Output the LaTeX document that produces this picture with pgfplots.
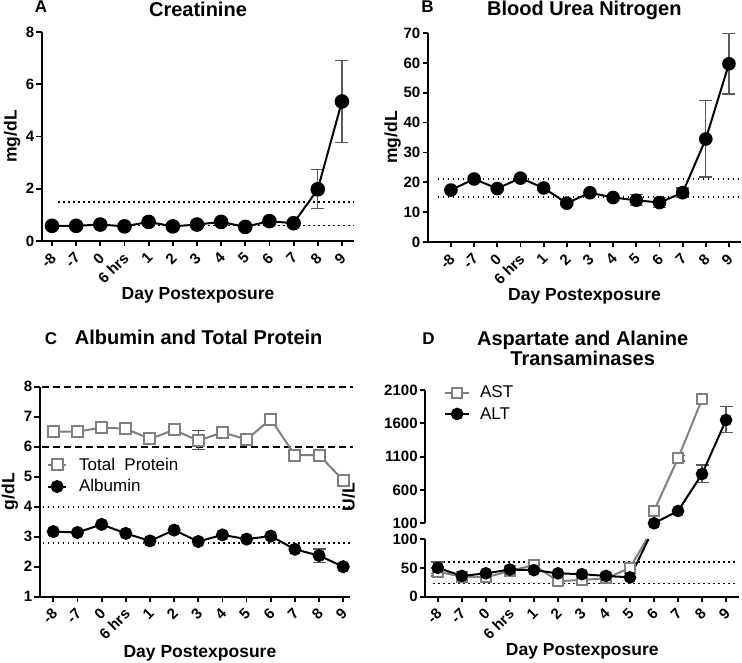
\documentclass[border=0pt]{standalone}
\usepackage{pgfplots}
\pgfplotsset{compat=1.18}
\usepackage{fontspec}
\setmainfont{Liberation Sans}
\definecolor{gp}{HTML}{808080}
\definecolor{eb}{HTML}{5A5A5A}
\pgfplotsset{
  gpaxis/.style={
    scale only axis,
    clip=false,
    anchor=south west,
    axis x line=bottom, axis y line=left,
    axis line style={-, line width=1.8pt, black},
    tick align=outside,
    major tick length=5.5pt,
    tick style={line width=1.8pt, black},
    /pgf/number format/assume math mode=true,
    /pgf/number format/1000 sep={},
    scaled y ticks=false,
    tick label style={font=\bfseries\fontsize{15}{15}\selectfont, black},
    xtick={0,...,12},
    xticklabels={-8,-7,0,6 hrs,1,2,3,4,5,6,7,8,9},
    xticklabel style={xshift=-2.5pt, yshift=-3.5pt, rotate=45, anchor=north east, inner sep=1pt},
    yticklabel style={inner sep=2pt},
    label style={font=\bfseries\fontsize{17.5}{17.5}\selectfont},
    xlabel={Day Postexposure},
  },
  refdot/.style={forget plot, black, line width=1.6pt, dash pattern=on 1.6pt off 3.4pt},
  refdash/.style={forget plot, black, line width=1.8pt, dash pattern=on 7pt off 4pt},
  ebar/.style={forget plot, eb, only marks, mark=none, error bars/.cd, y dir=both, y explicit, error bar style={line width=1.3pt, eb, solid}, error mark options={rotate=90, mark size=6.5pt, line width=1.3pt, eb, solid}},
  blk/.style={black, line width=2pt, mark=*, mark size=#1, mark options={solid, fill=black}},
  gry/.style={gp, line width=2pt, mark=square*, mark size=#1, mark options={solid, fill=white, draw=gp, line width=2pt}},
}
\tikzset{
  ttl/.style={font=\bfseries\fontsize{20}{20}\selectfont, anchor=base},
  ltr/.style={font=\bfseries\fontsize{17}{17}\selectfont, anchor=base},
}
\begin{document}
\begin{tikzpicture}[x=1pt,y=1pt]
% ---------------- A: Creatinine
\begin{axis}[gpaxis, at={(42pt,421pt)}, width=312pt, height=209pt,
  xmin=-0.414, xmax=12.5, ymin=0, ymax=8, ytick={0,2,4,6,8},
  ylabel={mg/dL},
  ylabel style={at={(axis description cs:-0.096,0.5)}, anchor=center},
  xlabel style={at={(axis description cs:0.5,-0.258)}, anchor=center}]
\addplot[refdot] coordinates {(0.26,1.5) (12.5,1.5)};
\addplot[refdot] coordinates {(0.26,0.6) (12.5,0.6)};
\addplot[ebar] coordinates {(11,1.98) += (0,0.76) -= (0,0.74) (12,5.34) += (0,1.56) -= (0,1.56)};
\addplot[blk=6.3pt] coordinates {(0,0.58) (1,0.58) (2,0.63) (3,0.56) (4,0.73) (5,0.56) (6,0.63) (7,0.73) (8,0.54) (9,0.76) (10,0.68) (11,1.98) (12,5.34)};
\end{axis}
% ---------------- B: BUN
\begin{axis}[gpaxis, at={(428pt,420pt)}, width=313pt, height=209pt,
  xmin=-0.99, xmax=12.52, ymin=0, ymax=70, ytick={0,10,...,70},
  ylabel={mg/dL},
  ylabel style={at={(axis description cs:-0.113,0.5)}, anchor=center},
  xlabel style={at={(axis description cs:0.5,-0.258)}, anchor=center}]
\addplot[refdot] coordinates {(-0.57,21) (12.52,21)};
\addplot[refdot] coordinates {(-0.57,15) (12.52,15)};
\addplot[ebar] coordinates {(8,14.0) += (0,1.9) -= (0,1.7) (9,13.2) += (0,1.6) -= (0,1.7) (10,16.5) += (0,1.6) -= (0,1.6) (11,34.5) += (0,12.9) -= (0,12.7) (12,59.7) += (0,10.1) -= (0,10.1)};
\addplot[blk=5.8pt] coordinates {(0,17.4) (1,21.1) (2,17.9) (3,21.4) (4,18.1) (5,13.0) (6,16.5) (7,14.9) (8,14.0) (9,13.2) (10,16.5) (11,34.5) (12,59.7)};
\end{axis}
% ---------------- C: Albumin and total protein
\begin{axis}[gpaxis, at={(40pt,65.3pt)}, width=310pt, height=210pt,
  xmin=-0.55, xmax=12.28, ymin=1, ymax=8, ytick={1,...,8},
  ylabel={g/dL},
  ylabel style={at={(axis description cs:-0.097,0.5)}, anchor=center},
  xlabel style={at={(axis description cs:0.516,-0.268)}, anchor=center},
  legend cell align=left,
  legend style={at={(axis description cs:0.023,0.671)}, anchor=north west, draw=none, fill=none, font=\fontsize{17}{17}\selectfont, inner sep=0pt, outer sep=0pt, row sep=4pt, column sep=0pt},
  legend image code/.code={\draw[mark repeat=2,mark phase=2,#1] plot coordinates {(0pt,0pt) (9pt,0pt) (18pt,0pt)};}]
\addplot[refdash] coordinates {(-0.48,8) (12.39,8)};
\addplot[refdash] coordinates {(-0.48,6) (12.39,6)};
\addplot[refdot] coordinates {(-0.43,4) (12.39,4)};
\addplot[refdot] coordinates {(-0.43,2.8) (12.39,2.8)};
\addplot[ebar] coordinates {(6,6.2) += (0,0.33) -= (0,0.3) (11,2.37) += (0,0.22) -= (0,0.23)};
\addplot[gry=5.5pt] coordinates {(0,6.5) (1,6.5) (2,6.64) (3,6.6) (4,6.26) (5,6.56) (6,6.2) (7,6.48) (8,6.24) (9,6.92) (10,5.72) (11,5.72) (12,4.88)};
\addlegendentry{\hspace{10pt}Total\ \ Protein}
\addplot[blk=5.5pt] coordinates {(0,3.17) (1,3.14) (2,3.41) (3,3.11) (4,2.86) (5,3.22) (6,2.84) (7,3.06) (8,2.92) (9,3.02) (10,2.58) (11,2.37) (12,2.0)};
\addlegendentry{\hspace{10pt}Albumin}
\end{axis}
% ---------------- D: bottom segment
\begin{axis}[gpaxis, at={(425.3pt,65.3pt)}, width=314pt, height=57.7pt,
  xmin=-0.52, xmax=12.55, ymin=0, ymax=100, ytick={0,50,100},
  ylabel={U/L},
  ylabel style={at={(axis description cs:-0.245,1.728)}, anchor=center},
  xlabel style={at={(axis description cs:0.5,-0.953)}, anchor=center}]
\addplot[refdot] coordinates {(-0.18,60) (12.5,60)};
\addplot[refdot] coordinates {(-0.18,23) (12.5,23)};
\addplot[ebar] coordinates {(0,43) += (0,7) -= (0,7) (0,50) += (0,10) -= (0,10)};
\addplot[gry=5pt] coordinates {(0,43) (1,35) (2,33.5) (3,44.5) (4,55) (5,27) (6,29) (7,32) (8,50)};
\addplot[gp, line width=2pt] coordinates {(8,50) (8.70,100)};
\addplot[black, line width=2pt] coordinates {(8,33.5) (8.77,100)};
\addplot[blk=5.3pt] coordinates {(0,50) (1,36) (2,40.5) (3,47) (4,46) (5,40.5) (6,39) (7,36) (8,33.5)};
\end{axis}
% ---------------- D: top segment
\begin{axis}[gpaxis, at={(425.3pt,138.7pt)}, width=314pt, height=133.3pt,
  xmin=-0.52, xmax=12.55, ymin=100, ymax=2100, ytick={100,600,1100,1600,2100},
  axis x line=none, xtick=\empty, xlabel={},
  legend cell align=left,
  legend style={at={(axis description cs:0.06,1.045)}, anchor=north west, draw=none, fill=none, font=\fontsize{17}{17}\selectfont, inner sep=0pt, outer sep=0pt, row sep=4pt, column sep=0pt},
  legend image code/.code={\draw[mark repeat=2,mark phase=2,#1] plot coordinates {(0pt,0pt) (12pt,0pt) (24pt,0pt)};}]
\addplot[ebar] coordinates {(10,1075) += (0,40) -= (0,40) (11,840) += (0,135) -= (0,131) (12,1650) += (0,200) -= (0,190)};
\addplot[gry=5pt] coordinates {(9,289) (10,1075) (11,1960)};
\addlegendentry{\hspace{8pt}AST}
\addplot[blk=5.3pt] coordinates {(9,100) (10,285) (11,840) (12,1650)};
\addlegendentry{\hspace{8pt}ALT}
\end{axis}
% ---------------- titles and panel letters
\node[ttl] at (198,645.3) {Creatinine};
\node[ltr] at (41,649.5) {A};
\node[ttl] at (584.3,646) {Blood Urea Nitrogen};
\node[ltr] at (427.5,649) {B};
\node[ttl] at (198.7,317) {Albumin and Total Protein};
\node[ltr] at (51,317) {C};
\node[ttl] at (582.7,316) {Aspartate and Alanine};
\node[ttl] at (582.7,296) {Transaminases};
\node[ltr] at (428.5,317) {D};
\pgfresetboundingbox
\path[use as bounding box] (0,0) rectangle (742,662);
\end{tikzpicture}
\end{document}
